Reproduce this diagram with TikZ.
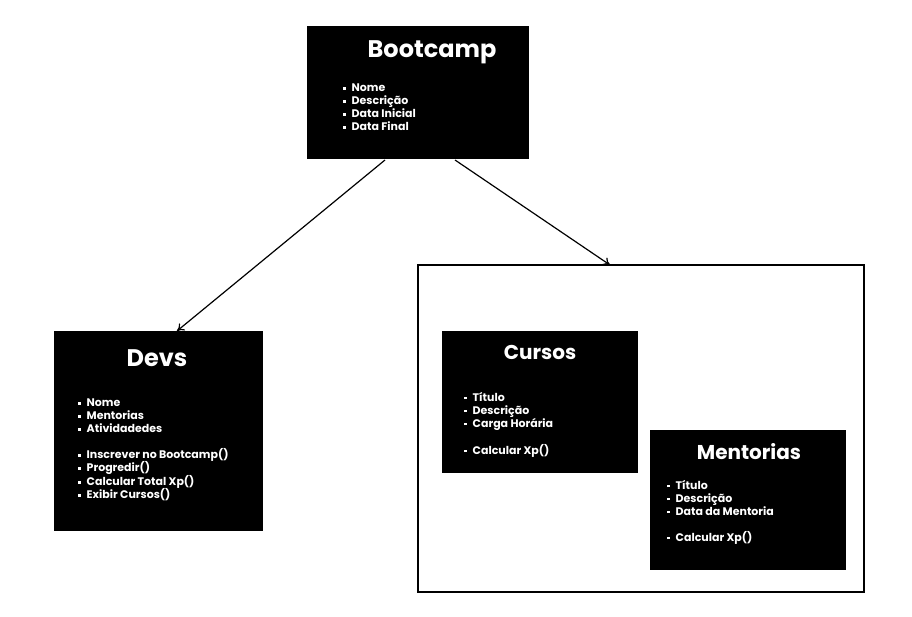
\documentclass[tikz,border=0pt]{standalone}
\usepackage{fontspec}
\setmainfont{Poppins}
\usetikzlibrary{arrows.meta}
\newcommand{\bul}{\makebox[8.5pt][l]{\raisebox{2.2pt}{\rule{2.3pt}{2.3pt}}}}
\begin{document}
\begin{tikzpicture}[x=1pt,y=-1pt,
  blk/.style={fill=black,draw=none},
  ttl/.style={text=white,font=\fontsize{24}{28}\selectfont\bfseries,inner sep=0pt,anchor=center},
  lst/.style={text=white,font=\fontsize{11}{13}\selectfont\bfseries,inner sep=0pt,anchor=north west,align=left},
  conn/.style={line width=1.2pt,-{To[length=7pt,width=9pt]}}]
\useasboundingbox (0,0) rectangle (912,617);
% Bootcamp
\path[blk] (307,26) rectangle (529,159);
\coordinate (bc1) at (385,160);
\coordinate (bc2) at (455,160);
\node[ttl] (bt) at (432,52) {Bootcamp};
\node[lst] (bl) at (343,84) {\bul Nome\\\bul Descrição\\\bul Data Inicial\\\bul Data Final};
% Devs
\path[blk] (54,331) rectangle (263,531);
\coordinate (dv) at (177,331);
\node[ttl] (dt) at (157,358) {Devs};
\node[lst] (dl) at (78,399) {\bul Nome\\\bul Mentorias\\\bul Atividadedes\\[13pt]\bul Inscrever no Bootcamp()\\\bul Progredir()\\\bul Calcular Total Xp()\\\bul Exibir Cursos()};
% Container
\draw[line width=2.5pt] (418,265) rectangle (864,592);
\coordinate (ct) at (610,265);
% Cursos
\path[blk] (442,331) rectangle (638,473);
\node[ttl,font=\fontsize{20}{24}\selectfont\bfseries] (cu) at (540,352) {Cursos};
\node[lst] (cl) at (464,392) {\bul Título\\\bul Descrição\\\bul Carga Horária\\[13pt]\bul Calcular Xp()};
% Mentorias
\path[blk] (650,430) rectangle (846,570);
\node[ttl,font=\fontsize{20}{24}\selectfont\bfseries] (mt) at (749,452) {Mentorias};
\node[lst] (ml) at (667,480) {\bul Título\\\bul Descrição\\\bul Data da Mentoria\\[13pt]\bul Calcular Xp()};
% arrows
\draw[conn] (bc1) -- (dv);
\draw[conn] (bc2) -- (ct);
\end{tikzpicture}
\end{document}
